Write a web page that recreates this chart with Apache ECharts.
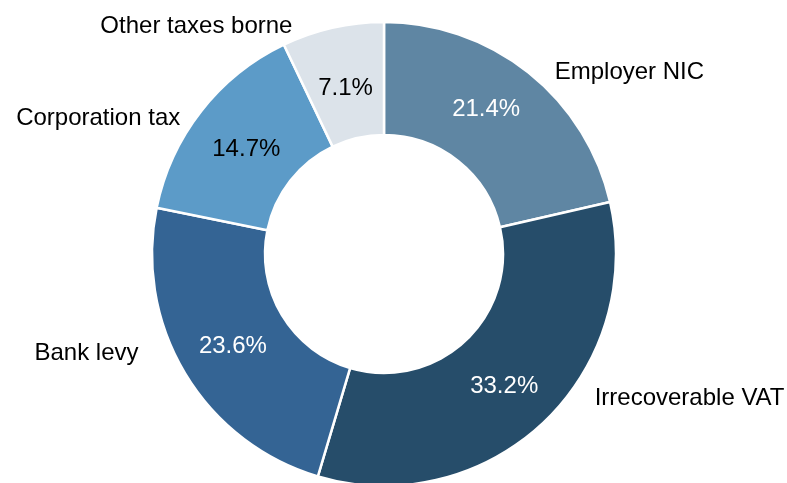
<!DOCTYPE html>
<html>
<head>
<meta charset="utf-8">
<script src="https://cdn.jsdelivr.net/npm/echarts@6/dist/echarts.min.js"></script>
<style>html,body{margin:0;padding:0;background:#fff}#c{width:787px;height:483px}</style>
</head>
<body>
<div id="c"></div>
<script>
const categories = ["Employer NIC", "Irrecoverable VAT", "Bank levy", "Corporation tax", "Other taxes borne"];
const values = [21.4, 33.2, 23.6, 14.7, 7.1];

// styling (kept apart from the data)
const colors = ["#5f86a3", "#264d6a", "#346494", "#5c9bc8", "#dce3ea"];
const innerTextColors = ["#ffffff", "#ffffff", "#ffffff", "#000000", "#000000"];
const outerNudge = [[9, 8], [34, -32], [-27, -25], [-2, 13], [-27, 8]];
const innerNudge = [[-9, -5], [-2, 2], [2, 1], [3, 5], [1, 8]];

const font = "'Liberation Sans', Arial, sans-serif";
const chart = echarts.init(document.getElementById('c'), null, {renderer: 'canvas'});

function buildData(inner) {
  return categories.map((name, i) => ({
    name: name,
    value: values[i],
    itemStyle: {color: colors[i]},
    label: inner ? {color: innerTextColors[i]} : {}
  }));
}

const common = {
  type: 'pie',
  center: [384, 254],
  radius: [119, 232],
  startAngle: 90,
  clockwise: true,
  animation: false,
  silent: true,
  itemStyle: {borderColor: '#ffffff', borderWidth: 2.5}
};

chart.setOption({
  backgroundColor: '#ffffff',
  series: [
    Object.assign({}, common, {
      data: buildData(false),
      label: {
        show: true,
        position: 'outside',
        formatter: '{b}',
        fontFamily: font,
        fontSize: 24,
        color: '#000000'
      },
      labelLine: {show: false, length: 10, length2: 6},
      labelLayout: (p) => ({dx: outerNudge[p.dataIndex][0], dy: outerNudge[p.dataIndex][1]})
    }),
    Object.assign({}, common, {
      data: buildData(true),
      label: {
        show: true,
        position: 'inside',
        formatter: (p) => p.value.toFixed(1) + '%',
        fontFamily: font,
        fontSize: 24
      },
      labelLine: {show: false},
      labelLayout: (p) => ({dx: innerNudge[p.dataIndex][0], dy: innerNudge[p.dataIndex][1]})
    })
  ]
});
</script>
</body>
</html>
